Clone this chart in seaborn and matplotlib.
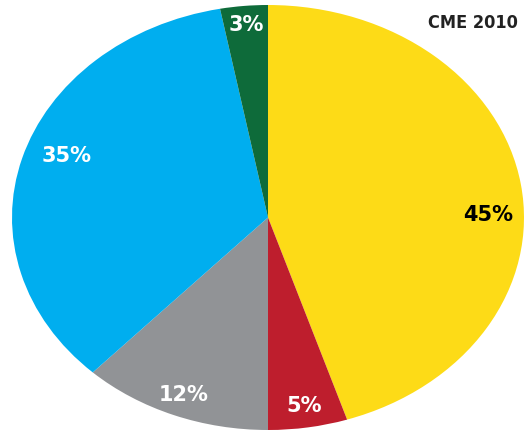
import matplotlib
matplotlib.use("Agg")
import matplotlib.pyplot as plt
import seaborn as sns
import numpy as np

# Data
categories = ["Yellow", "Red", "Gray", "Blue", "Green"]
values = [45, 5, 12, 35, 3]
labels = ["45%", "5%", "12%", "35%", "3%"]
colors_hex = ["#FDDB17", "#BE1E2D", "#919396", "#00AEEF", "#0E6B3A"]
label_colors = ["black", "white", "white", "white", "white"]
title_text = "CME 2010"

sns.set_theme(style="white")
palette = sns.color_palette(colors_hex)

fig = plt.figure(figsize=(5.24, 4.34), dpi=100)
W, H = 524, 434
ax = fig.add_axes([12 / W, 4 / H, 512 / W, 425 / H])

wedges, texts = ax.pie(
    values,
    colors=palette,
    startangle=90,
    counterclock=False,
    radius=1.0,
    labels=None,
    wedgeprops=dict(linewidth=0),
)
ax.set_aspect("auto")
ax.set_xlim(-1, 1)
ax.set_ylim(-1, 1)
ax.axis("off")

# percent labels placed along each wedge's mid-angle
total = sum(values)
start = 90.0
radii = [0.86, 0.9, 0.9, 0.84, 0.91]
angle_shift = [-8.3, 0, 0, -4, 0]
for v, lab, col, r, sh in zip(values, labels, label_colors, radii, angle_shift):
    sweep = 360.0 * v / total
    mid = start - sweep / 2 + sh
    start -= sweep
    ax.text(r * np.cos(np.radians(mid)), r * np.sin(np.radians(mid)), lab,
            ha="center", va="center", color=col, fontsize=15,
            fontweight="bold", family=["DejaVu Sans"])

fig.text(518 / W, 1 - 23 / H, title_text, ha="right", va="center",
         fontsize=13, fontweight="bold", color="#222222",
         fontstretch="condensed", family=["DejaVu Sans"])

fig.savefig("out.png", dpi=100, facecolor="white")
